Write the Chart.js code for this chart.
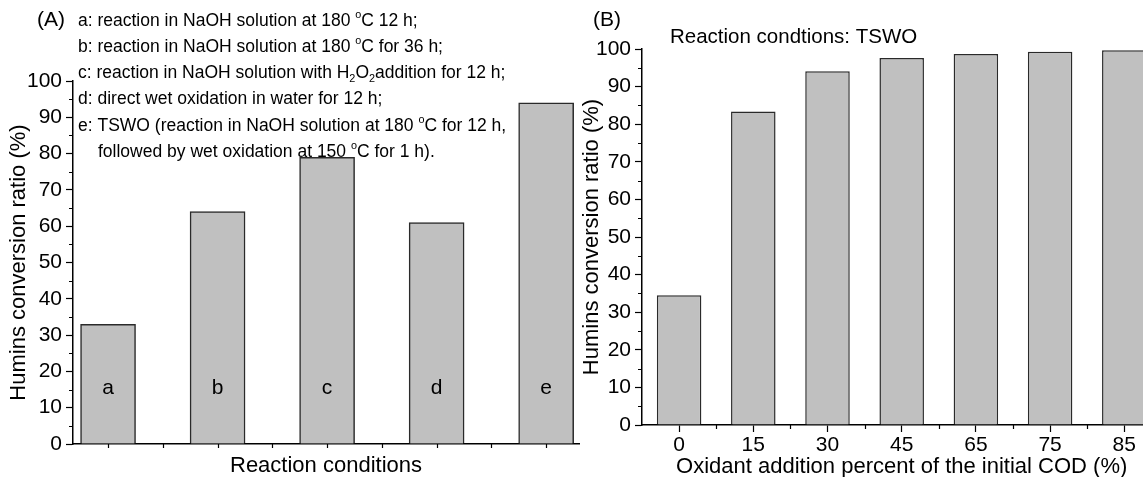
<!DOCTYPE html>
<html>
<head>
<meta charset="utf-8">
<script src="https://cdn.jsdelivr.net/npm/chart.js@4.4.1/dist/chart.umd.min.js"></script>
<style>
body { margin:0; background:#fff; overflow:hidden; width:1143px; height:477px; position:relative; }
canvas { position:absolute; top:0; }
#chartA { left:0; }
#chartB { left:560px; }
</style>
</head>
<body>
<canvas id="chartA" width="590" height="477"></canvas>
<canvas id="chartB" width="620" height="477"></canvas>
<script>
// panel A
const conditions = ['a', 'b', 'c', 'd', 'e']
const conversionA = [33, 64, 79, 61, 94]
// panel B
const oxidantPercent = ['0', '15', '30', '45', '65', '75', '85']
const conversionB = [34.5, 83.4, 94.1, 97.6, 98.7, 99.3, 99.7]

const yMinor = [5, 15, 25, 35, 45, 55, 65, 75, 85, 95]
const xMinorA = [0, 0.5, 1, 1.5, 2, 2.5, 3, 3.5, 4]
const xMinorB = [0.5, 1.5, 2.5, 3.5, 4.5, 5.5]

const notes = [
    ['a: reaction in NaOH solution at 180 ', {sup: 'o'}, 'C 12 h;'],
    ['b: reaction in NaOH solution at 180 ', {sup: 'o'}, 'C for 36 h;'],
    ['c: reaction in NaOH solution with H', {sub: '2'}, 'O', {sub: '2'}, 'addition for 12 h;'],
    ['d: direct wet oxidation in water for 12 h;'],
    ['e: TSWO (reaction in NaOH solution at 180 ', {sup: 'o'}, 'C for 12 h,'],
    ['followed by wet oxidation at 150 ', {sup: 'o'}, 'C for 1 h).']
]
const notesY = [21, 47, 73, 99.5, 126, 152]
const notesX = [78, 78, 78, 78, 78, 98]

const FONT = '"Liberation Sans", Arial, sans-serif'
Chart.defaults.font.family = FONT
Chart.defaults.color = '#000'

function drawRich(ctx, parts, x, y, size) {
    for (const p of parts) {
        if (typeof p === 'string') {
            ctx.font = `${size}px ${FONT}`
            ctx.fillText(p, x, y)
            x += ctx.measureText(p).width
        } else {
            const t = p.sup || p.sub
            ctx.font = `${size * 0.62}px ${FONT}`
            const dy = p.sup ? -size * 0.36 : size * 0.32
            ctx.fillText(t, x, y + dy)
            x += ctx.measureText(t).width
        }
    }
}

function minorTicks(xs) {
    return {
        id: 'minorTicks',
        afterDraw(chart) {
            const {ctx, scales: {x, y}} = chart
            ctx.save()
            ctx.strokeStyle = '#000'
            ctx.lineWidth = 1.2
            ctx.beginPath()
            yMinor.forEach(v => {
                const py = Math.round(y.getPixelForValue(v)) + 0.5
                ctx.moveTo(y.right, py)
                ctx.lineTo(y.right - 4, py)
            })
            xs.forEach(v => {
                const px = Math.round(x.getPixelForValue(v)) + 0.5
                ctx.moveTo(px, x.top)
                ctx.lineTo(px, x.top + 4)
            })
            ctx.stroke()
            ctx.restore()
        }
    }
}

function yAxis(width, titlePad) {
    return {
        min: 0, max: 100,
        afterFit: s => { s.width = width },
        ticks: {stepSize: 10, font: {size: 21}, padding: 4, color: '#000'},
        grid: {drawOnChartArea: false, tickLength: 7, tickColor: '#000', tickWidth: 1.2},
        border: {color: '#000', width: 1.5},
        title: {display: true, text: 'Humins conversion ratio (%)', font: {size: 22}, color: '#000',
            padding: {top: titlePad, bottom: 0}}
    }
}

const textA = {
    id: 'textA',
    afterDraw(chart) {
        const {ctx, scales: {x, y}} = chart
        ctx.save()
        ctx.fillStyle = '#000'
        ctx.textBaseline = 'middle'
        ctx.textAlign = 'left'
        ctx.font = `21px ${FONT}`
        ctx.fillText('(A)', 37, 20)
        notes.forEach((line, i) => drawRich(ctx, line, notesX[i], notesY[i], 17.5))
        ctx.textAlign = 'center'
        ctx.font = `21px ${FONT}`
        conditions.forEach((c, i) => ctx.fillText(c, x.getPixelForValue(i), y.getPixelForValue(15.5)))
        ctx.restore()
    }
}

const textB = {
    id: 'textB',
    afterDraw(chart) {
        const ctx = chart.ctx
        ctx.save()
        ctx.fillStyle = '#000'
        ctx.textBaseline = 'middle'
        ctx.font = `21px ${FONT}`
        ctx.fillText('(B)', 33, 20)
        ctx.font = `20.5px ${FONT}`
        ctx.fillText('Reaction condtions: TSWO', 110, 37)
        ctx.restore()
    }
}

new Chart(document.getElementById('chartA'), {
    type: 'bar',
    data: {
        datasets: [{
            data: conversionA.map((v, i) => ({x: i, y: v})),
            backgroundColor: '#c0c0c0',
            borderColor: '#2a2a2a',
            borderWidth: 1.5,
            barThickness: 55
        }]
    },
    options: {
        responsive: false,
        animation: false,
        layout: {padding: {left: 0, right: 11, top: 81, bottom: 0}},
        plugins: {legend: {display: false}, tooltip: {enabled: false}},
        scales: {
            x: {
                type: 'linear', min: -0.32, max: 4.3, offset: false,
                afterFit: s => { s.height = 33 },
                ticks: {display: false},
                grid: {drawOnChartArea: false, drawTicks: false},
                border: {color: '#000', width: 1.5},
                title: {display: true, text: 'Reaction conditions', font: {size: 22}, color: '#000',
                    padding: {top: 0, bottom: -2}}
            },
            y: yAxis(73, 6)
        }
    },
    plugins: [minorTicks(xMinorA), textA]
})

new Chart(document.getElementById('chartB'), {
    type: 'bar',
    data: {
        labels: oxidantPercent,
        datasets: [{
            data: conversionB,
            backgroundColor: '#c0c0c0',
            borderColor: '#2a2a2a',
            borderWidth: 1.5,
            barPercentage: 0.6,
            categoryPercentage: 1.0
        }]
    },
    options: {
        responsive: false,
        animation: false,
        layout: {padding: {left: 0, right: 18.6, top: 49, bottom: 0}},
        plugins: {legend: {display: false}, tooltip: {enabled: false}},
        scales: {
            x: {
                afterFit: s => { s.height = 52 },
                ticks: {font: {size: 21}, padding: 1, color: '#000'},
                grid: {drawOnChartArea: false, offset: false, tickLength: 7, tickColor: '#000', tickWidth: 1.2},
                border: {color: '#000', width: 1.5},
                title: {display: true, text: 'Oxidant addition percent of the initial COD (%)', font: {size: 22},
                    color: '#000', padding: {top: 0, bottom: -3}}
            },
            y: yAxis(82, 19)
        }
    },
    plugins: [minorTicks(xMinorB), textB]
})
</script>
</body>
</html>
